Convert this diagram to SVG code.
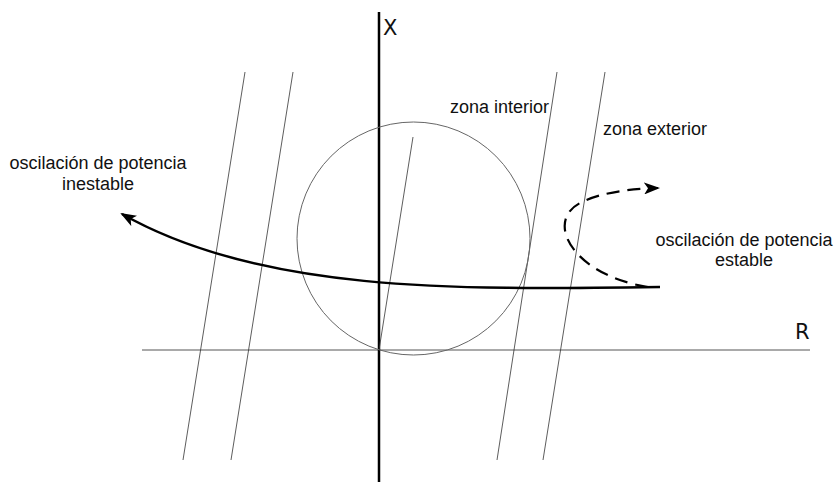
<svg xmlns="http://www.w3.org/2000/svg" width="834" height="482" viewBox="0 0 834 482">
<style>
.t{font-family:"Liberation Sans",Arial,sans-serif;font-size:18px;fill:#111}
.ax{font-family:"DejaVu Sans",sans-serif;font-size:21px;fill:#111}
.thin{stroke:#333;stroke-width:0.8;fill:none}
</style>
<defs>
<marker id="ah2" viewBox="0 0 16 12" refX="14" refY="6" markerWidth="16" markerHeight="12" markerUnits="userSpaceOnUse" orient="auto">
<path d="M0,0 L16,6 L0,12 L4,6 Z" fill="#000"/>
</marker>
</defs>
<rect width="834" height="482" fill="#fff"/>
<g id="axes">
<line x1="142" y1="350" x2="810" y2="350" stroke="#555" stroke-width="1"/>
<line x1="379" y1="12" x2="379" y2="482" stroke="#000" stroke-width="2.5"/>
<text class="ax" x="383" y="35">X</text>
<text class="ax" x="795" y="339">R</text>
</g>
<g id="lines">
<line class="thin" x1="245" y1="72" x2="183" y2="460"/>
<line class="thin" x1="293" y1="72" x2="231" y2="460"/>
<line class="thin" x1="557" y1="72" x2="497" y2="460"/>
<line class="thin" x1="605" y1="72" x2="543" y2="460"/>
<line class="thin" x1="379" y1="350" x2="413" y2="137"/>
</g>
<g id="circle">
<circle cx="413.5" cy="238.5" r="116.5" fill="none" stroke="#666" stroke-width="1"/>
</g>
<g id="connectors">
<path d="M660,287 C450,290 260,292 122,214" fill="none" stroke="#000" stroke-width="2.5" marker-end="url(#ah2)"/>
<path d="M648,287 C572,275 543,220 582,202 C603,192 630,189 658,188" fill="none" stroke="#000" stroke-width="2.2" stroke-dasharray="13,8" marker-end="url(#ah2)"/>
</g>
<g id="label-inestable">
<text class="t" x="98" y="169" text-anchor="middle">oscilación de potencia</text>
<text class="t" x="98" y="190" text-anchor="middle">inestable</text>
</g>
<g id="label-estable">
<text class="t" x="744" y="246" text-anchor="middle">oscilación de potencia</text>
<text class="t" x="744" y="266" text-anchor="middle">estable</text>
</g>
<g id="label-zonas">
<text class="t" x="450" y="113">zona interior</text>
<text class="t" x="603" y="135">zona exterior</text>
</g>
</svg>
